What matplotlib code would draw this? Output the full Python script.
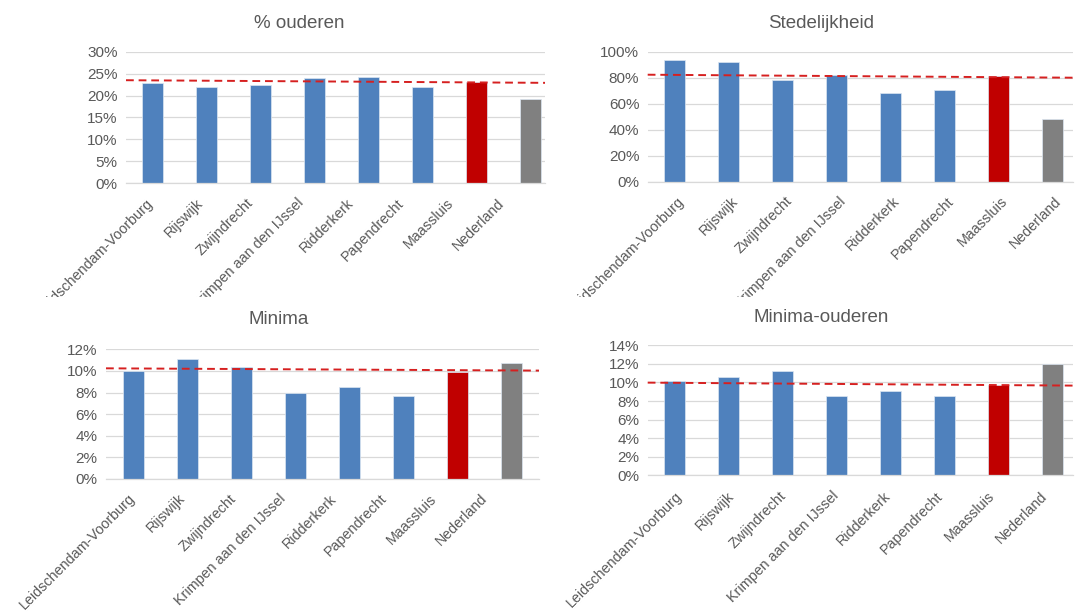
import matplotlib
matplotlib.use("Agg")
import matplotlib.pyplot as plt
from matplotlib.ticker import FuncFormatter
from matplotlib.transforms import Bbox, TransformedBbox

plt.rcParams['font.family'] = ['Liberation Sans', 'DejaVu Sans']

gemeenten = ["Leidschendam-Voorburg", "Rijswijk", "Zwijndrecht", "Krimpen aan den IJssel",
             "Ridderkerk", "Papendrecht", "Maassluis", "Nederland"]

titles = ["% ouderen", "Stedelijkheid", "Minima", "Minima-ouderen"]

ouderen = [0.229, 0.220, 0.224, 0.239, 0.242, 0.219, 0.230, 0.192]
stedelijkheid = [0.938, 0.921, 0.785, 0.821, 0.685, 0.705, 0.813, 0.485]
minima = [0.1003, 0.111, 0.1033, 0.0799, 0.0851, 0.0771, 0.099, 0.107]
minima_ouderen = [0.1012, 0.1063, 0.1127, 0.0851, 0.0905, 0.0858, 0.0973, 0.1199]

# trend line (dashed) start / end values
trend_start = [0.235, 0.823, 0.1024, 0.0998]
trend_end = [0.229, 0.800, 0.1003, 0.0966]

y_max = [0.30, 1.00, 0.12, 0.14]
y_step = [0.05, 0.20, 0.02, 0.02]

colors = ["#4f81bd"] * 6 + ["#c00000", "#808080"]
GREY = "#595959"

W, H = 1078, 614
fig = plt.figure(figsize=(W / 100, H / 100), dpi=100)

# axes boxes in pixels: left, right, top, bottom ; xlim
boxes = [(126, 545, 51.7, 183.3, (-0.49, 7.27)),
         (647.7, 1073, 51.7, 181.7, (-0.493, 7.383)),
         (106, 539, 349.3, 479, (-0.5, 7.5)),
         (647.7, 1073, 345.3, 475.3, (-0.493, 7.383))]
# category label anchors in pixels: first x, spacing, distance below axis
label_pos = [(151, 50.1, 17.5), (682, 53.9, 17.5), (133, 50.3, 17.5), (680, 52.1, 18.5)]
title_pos = [(299, 23), (821, 23), (279, 320), (821, 317)]
data = [ouderen, stedelijkheid, minima, minima_ouderen]

clip = TransformedBbox(Bbox.from_extents(0, 1 - 297 / H, 1, 1), fig.transFigure)

for k in range(4):
    l, r, t, b, xl = boxes[k]
    ax = fig.add_axes([l / W, 1 - b / H, (r - l) / W, (b - t) / H])
    x = list(range(len(gemeenten)))
    ax.bar(x, data[k], width=0.39, color=colors, edgecolor="#dce6f2", linewidth=0.5, zorder=2)
    ax.plot([xl[0], xl[1]], [trend_start[k], trend_end[k]], color="#d62020",
            linestyle=(0, (4, 2.5)), linewidth=1.4, zorder=3, clip_on=False)
    ax.set_xlim(xl)
    ax.set_ylim(0, y_max[k])
    n = int(round(y_max[k] / y_step[k]))
    ax.set_yticks([i * y_step[k] for i in range(n + 1)])
    ax.yaxis.set_major_formatter(FuncFormatter(lambda v, p: "%d%%" % round(v * 100)))
    ax.grid(axis="y", color="#d9d9d9", linewidth=0.9, zorder=0)
    for s in ["top", "right", "left"]:
        ax.spines[s].set_visible(False)
    ax.spines["bottom"].set_color("#d9d9d9")
    ax.spines["bottom"].set_linewidth(0.9)
    ax.tick_params(axis="both", length=0, colors=GREY, labelsize=11)
    ax.tick_params(axis="y", pad=6)
    ax.tick_params(axis="x", pad=label_pos[k][2] * 0.72, labelsize=10.4)
    ax.xaxis.grid(False)
    px0, dpx, _ = label_pos[k]
    ticks = [xl[0] + (px0 + dpx * i - l) / (r - l) * (xl[1] - xl[0]) for i in x]
    ax.set_xticks(ticks)
    ax.set_xticklabels(gemeenten, rotation=45, ha="right", va="center", rotation_mode="anchor")
    if k < 2:
        for lab in ax.get_xticklabels():
            lab.set_clip_on(True)
            lab.set_clip_box(clip)
    fig.text(title_pos[k][0] / W, 1 - title_pos[k][1] / H, titles[k], ha="center", va="center",
             fontsize=13.5, color=GREY)

fig.savefig("out.png", dpi=100)
